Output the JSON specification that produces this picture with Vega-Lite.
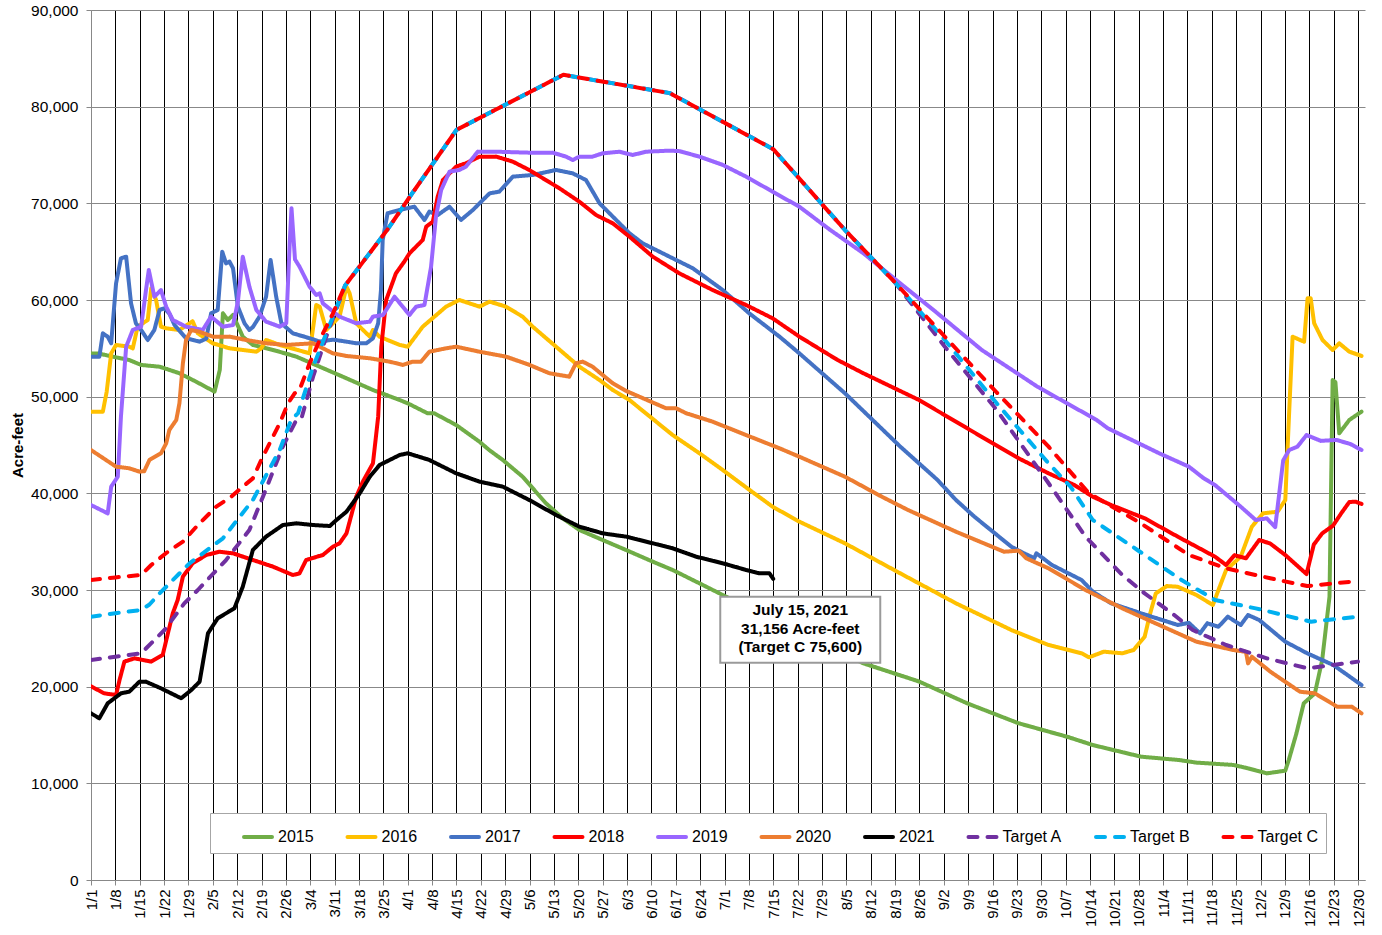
{
  "$schema": "https://vega.github.io/schema/vega-lite/v6.json",
  "width": 1274,
  "height": 870,
  "autosize": {"type": "none"},
  "padding": {"left": 91, "top": 10, "right": 17, "bottom": 55},
  "background": "white",
  "config": {"view": {"stroke": null}, "font": "Liberation Sans"},
  "datasets": {
    "series": [
      {"s":"2015","d":0,"v":54480},{"s":"2015","d":2.4,"v":54450},{"s":"2015","d":6.2,"v":54140},{"s":"2015","d":11,"v":53790},{"s":"2015","d":14.4,"v":53280},{"s":"2015","d":19.7,"v":53100},{"s":"2015","d":25.4,"v":52420},{"s":"2015","d":30.2,"v":51550},{"s":"2015","d":35.5,"v":50520},{"s":"2015","d":37,"v":52760},{"s":"2015","d":37.9,"v":58620},{"s":"2015","d":39.3,"v":57930},{"s":"2015","d":40.8,"v":58450},{"s":"2015","d":43.6,"v":56210},{"s":"2015","d":46.5,"v":55350},{"s":"2015","d":52.3,"v":54830},{"s":"2015","d":59,"v":54140},{"s":"2015","d":65.7,"v":53100},{"s":"2015","d":73.4,"v":51900},{"s":"2015","d":81,"v":50690},{"s":"2015","d":88.7,"v":49650},{"s":"2015","d":91,"v":49310},{"s":"2015","d":96.7,"v":48280},{"s":"2015","d":98.6,"v":48280},{"s":"2015","d":104.9,"v":47070},{"s":"2015","d":111.6,"v":45340},{"s":"2015","d":114.4,"v":44480},{"s":"2015","d":118.3,"v":43450},{"s":"2015","d":124,"v":41720},{"s":"2015","d":130.7,"v":38970},{"s":"2015","d":135.5,"v":37420},{"s":"2015","d":140.3,"v":36210},{"s":"2015","d":147,"v":35170},{"s":"2015","d":153.7,"v":34140},{"s":"2015","d":161.4,"v":32930},{"s":"2015","d":167.1,"v":32070},{"s":"2015","d":174.8,"v":30690},{"s":"2015","d":181.5,"v":29480},{"s":"2015","d":221.9,"v":22410},{"s":"2015","d":237.9,"v":20530},{"s":"2015","d":251.7,"v":18280},{"s":"2015","d":266.5,"v":16210},{"s":"2015","d":280.4,"v":14820},{"s":"2015","d":287.8,"v":13960},{"s":"2015","d":301.6,"v":12760},{"s":"2015","d":312.6,"v":12410},{"s":"2015","d":317.6,"v":12140},{"s":"2015","d":328.2,"v":11900},{"s":"2015","d":332.4,"v":11550},{"s":"2015","d":337.8,"v":11030},{"s":"2015","d":343.1,"v":11310},{"s":"2015","d":344.1,"v":12410},{"s":"2015","d":346.3,"v":15170},{"s":"2015","d":348.4,"v":18280},{"s":"2015","d":351.6,"v":19310},{"s":"2015","d":353.7,"v":22760},{"s":"2015","d":355.8,"v":29310},{"s":"2015","d":356.7,"v":51720},{"s":"2015","d":357.5,"v":51500},{"s":"2015","d":358.6,"v":46210},{"s":"2015","d":361.5,"v":47590},{"s":"2015","d":365,"v":48450},
      {"s":"2016","d":0,"v":48450},{"s":"2016","d":3.4,"v":48450},{"s":"2016","d":4.5,"v":50500},{"s":"2016","d":5.8,"v":54480},{"s":"2016","d":7.2,"v":55350},{"s":"2016","d":11,"v":55170},{"s":"2016","d":12,"v":55000},{"s":"2016","d":13.4,"v":57240},{"s":"2016","d":16.3,"v":57930},{"s":"2016","d":17.3,"v":61210},{"s":"2016","d":18.7,"v":60000},{"s":"2016","d":20.1,"v":57240},{"s":"2016","d":21.6,"v":57070},{"s":"2016","d":25.4,"v":56900},{"s":"2016","d":29.2,"v":57800},{"s":"2016","d":30.7,"v":56550},{"s":"2016","d":35,"v":55520},{"s":"2016","d":39.8,"v":55000},{"s":"2016","d":47.5,"v":54650},{"s":"2016","d":48.9,"v":55000},{"s":"2016","d":50.3,"v":55860},{"s":"2016","d":54.2,"v":55350},{"s":"2016","d":62.8,"v":54480},{"s":"2016","d":64.7,"v":59480},{"s":"2016","d":65.7,"v":59300},{"s":"2016","d":67.6,"v":56900},{"s":"2016","d":71.4,"v":58280},{"s":"2016","d":73.4,"v":61380},{"s":"2016","d":74.3,"v":60690},{"s":"2016","d":76.2,"v":57590},{"s":"2016","d":80.1,"v":56210},{"s":"2016","d":81,"v":56900},{"s":"2016","d":82.9,"v":56200},{"s":"2016","d":88.7,"v":55350},{"s":"2016","d":91,"v":55170},{"s":"2016","d":95.3,"v":57240},{"s":"2016","d":102,"v":59310},{"s":"2016","d":105.8,"v":60000},{"s":"2016","d":111.6,"v":59310},{"s":"2016","d":114.5,"v":59830},{"s":"2016","d":119.2,"v":59310},{"s":"2016","d":124,"v":58280},{"s":"2016","d":126.9,"v":57240},{"s":"2016","d":133.6,"v":55170},{"s":"2016","d":140.3,"v":53100},{"s":"2016","d":146.1,"v":51720},{"s":"2016","d":149.9,"v":50690},{"s":"2016","d":154.7,"v":49650},{"s":"2016","d":167.1,"v":46030},{"s":"2016","d":174.8,"v":44140},{"s":"2016","d":181.5,"v":42410},{"s":"2016","d":189.2,"v":40350},{"s":"2016","d":195.8,"v":38620},{"s":"2016","d":203.5,"v":37070},{"s":"2016","d":216.6,"v":34830},{"s":"2016","d":232.5,"v":31720},{"s":"2016","d":248.5,"v":28620},{"s":"2016","d":264.4,"v":25860},{"s":"2016","d":275.1,"v":24310},{"s":"2016","d":284.6,"v":23450},{"s":"2016","d":286.7,"v":23040},{"s":"2016","d":291,"v":23620},{"s":"2016","d":296.3,"v":23450},{"s":"2016","d":299.5,"v":23790},{"s":"2016","d":302.7,"v":25170},{"s":"2016","d":304.3,"v":27590},{"s":"2016","d":305.9,"v":29650},{"s":"2016","d":309.1,"v":30410},{"s":"2016","d":312.2,"v":30340},{"s":"2016","d":317.6,"v":29480},{"s":"2016","d":322.3,"v":28450},{"s":"2016","d":323.9,"v":30000},{"s":"2016","d":326.1,"v":32070},{"s":"2016","d":330.3,"v":33450},{"s":"2016","d":333.5,"v":36550},{"s":"2016","d":336.7,"v":37930},{"s":"2016","d":340.9,"v":38100},{"s":"2016","d":343.1,"v":39310},{"s":"2016","d":344.2,"v":48280},{"s":"2016","d":345.2,"v":56210},{"s":"2016","d":347.1,"v":55900},{"s":"2016","d":348.5,"v":55690},{"s":"2016","d":349.5,"v":60170},{"s":"2016","d":350.4,"v":60170},{"s":"2016","d":351.4,"v":57590},{"s":"2016","d":353.8,"v":55860},{"s":"2016","d":356.7,"v":54830},{"s":"2016","d":358.6,"v":55520},{"s":"2016","d":361.5,"v":54650},{"s":"2016","d":365,"v":54210},
      {"s":"2017","d":0,"v":54140},{"s":"2017","d":2.4,"v":54140},{"s":"2017","d":3.4,"v":56550},{"s":"2017","d":4.8,"v":56200},{"s":"2017","d":5.8,"v":55520},{"s":"2017","d":7.2,"v":61720},{"s":"2017","d":8.6,"v":64310},{"s":"2017","d":10.1,"v":64480},{"s":"2017","d":11.5,"v":59660},{"s":"2017","d":12.9,"v":57590},{"s":"2017","d":14.4,"v":56900},{"s":"2017","d":16.3,"v":55860},{"s":"2017","d":18.2,"v":56900},{"s":"2017","d":19.7,"v":58970},{"s":"2017","d":21.1,"v":59140},{"s":"2017","d":22.5,"v":58600},{"s":"2017","d":24,"v":57410},{"s":"2017","d":27.3,"v":56040},{"s":"2017","d":31.2,"v":55690},{"s":"2017","d":33.1,"v":56000},{"s":"2017","d":34.5,"v":58620},{"s":"2017","d":36.4,"v":58970},{"s":"2017","d":37.7,"v":65000},{"s":"2017","d":38.8,"v":63790},{"s":"2017","d":39.8,"v":63970},{"s":"2017","d":40.8,"v":63280},{"s":"2017","d":42.2,"v":59310},{"s":"2017","d":44.1,"v":57590},{"s":"2017","d":45.5,"v":56900},{"s":"2017","d":46.5,"v":57200},{"s":"2017","d":48.4,"v":58280},{"s":"2017","d":50.3,"v":60340},{"s":"2017","d":51.6,"v":64140},{"s":"2017","d":53.2,"v":60340},{"s":"2017","d":54.7,"v":57590},{"s":"2017","d":58,"v":56550},{"s":"2017","d":62.8,"v":56040},{"s":"2017","d":65.7,"v":55690},{"s":"2017","d":69.5,"v":55900},{"s":"2017","d":73.4,"v":55690},{"s":"2017","d":76.2,"v":55520},{"s":"2017","d":79.1,"v":55520},{"s":"2017","d":81,"v":56040},{"s":"2017","d":82.5,"v":57590},{"s":"2017","d":83.3,"v":61000},{"s":"2017","d":83.8,"v":66210},{"s":"2017","d":85.2,"v":68970},{"s":"2017","d":88.6,"v":69310},{"s":"2017","d":92.9,"v":69650},{"s":"2017","d":95.8,"v":68280},{"s":"2017","d":97.2,"v":69140},{"s":"2017","d":99.6,"v":68790},{"s":"2017","d":103,"v":69650},{"s":"2017","d":106.3,"v":68280},{"s":"2017","d":109.7,"v":69310},{"s":"2017","d":114.5,"v":71030},{"s":"2017","d":117.3,"v":71210},{"s":"2017","d":121.2,"v":72760},{"s":"2017","d":126.9,"v":72930},{"s":"2017","d":133.6,"v":73450},{"s":"2017","d":138.4,"v":73100},{"s":"2017","d":142.2,"v":72410},{"s":"2017","d":146.1,"v":70000},{"s":"2017","d":154.7,"v":66900},{"s":"2017","d":158.5,"v":65860},{"s":"2017","d":166.2,"v":64480},{"s":"2017","d":172.9,"v":63280},{"s":"2017","d":181.5,"v":61030},{"s":"2017","d":189.1,"v":58620},{"s":"2017","d":197.8,"v":56210},{"s":"2017","d":203.5,"v":54480},{"s":"2017","d":216.6,"v":50350},{"s":"2017","d":232.5,"v":44830},{"s":"2017","d":243.2,"v":41380},{"s":"2017","d":248.5,"v":39310},{"s":"2017","d":253.8,"v":37580},{"s":"2017","d":264.4,"v":34480},{"s":"2017","d":268,"v":33800},{"s":"2017","d":271,"v":33300},{"s":"2017","d":271.6,"v":33800},{"s":"2017","d":276,"v":32600},{"s":"2017","d":284.6,"v":31030},{"s":"2017","d":287.8,"v":29830},{"s":"2017","d":293.1,"v":28620},{"s":"2017","d":301.6,"v":27590},{"s":"2017","d":312.2,"v":26380},{"s":"2017","d":315.4,"v":26600},{"s":"2017","d":318.6,"v":25520},{"s":"2017","d":320.7,"v":26550},{"s":"2017","d":323.9,"v":26200},{"s":"2017","d":326.6,"v":27240},{"s":"2017","d":330.3,"v":26380},{"s":"2017","d":332.4,"v":27410},{"s":"2017","d":335.6,"v":26900},{"s":"2017","d":343.1,"v":24650},{"s":"2017","d":349.4,"v":23450},{"s":"2017","d":356.9,"v":22240},{"s":"2017","d":365,"v":20170},
      {"s":"2018","d":0,"v":20030},{"s":"2018","d":3.8,"v":19310},{"s":"2018","d":7.2,"v":19140},{"s":"2018","d":8.2,"v":20690},{"s":"2018","d":9.6,"v":22590},{"s":"2018","d":12.5,"v":22930},{"s":"2018","d":17.3,"v":22590},{"s":"2018","d":20.6,"v":23280},{"s":"2018","d":22.1,"v":25520},{"s":"2018","d":23.5,"v":27590},{"s":"2018","d":24.9,"v":28970},{"s":"2018","d":26.4,"v":31380},{"s":"2018","d":29.2,"v":32760},{"s":"2018","d":33.1,"v":33620},{"s":"2018","d":36.9,"v":33960},{"s":"2018","d":40.8,"v":33790},{"s":"2018","d":46.5,"v":33100},{"s":"2018","d":52.3,"v":32410},{"s":"2018","d":58,"v":31550},{"s":"2018","d":59.9,"v":31720},{"s":"2018","d":61.8,"v":33100},{"s":"2018","d":66.6,"v":33620},{"s":"2018","d":69.5,"v":34480},{"s":"2018","d":71.4,"v":34830},{"s":"2018","d":73.4,"v":35860},{"s":"2018","d":76.2,"v":39650},{"s":"2018","d":78.1,"v":41210},{"s":"2018","d":81,"v":43100},{"s":"2018","d":82.5,"v":47930},{"s":"2018","d":83.4,"v":55170},{"s":"2018","d":84.8,"v":60000},{"s":"2018","d":87.6,"v":62760},{"s":"2018","d":90,"v":63970},{"s":"2018","d":91.5,"v":64830},{"s":"2018","d":95.3,"v":66210},{"s":"2018","d":96.3,"v":67590},{"s":"2018","d":98.2,"v":68100},{"s":"2018","d":99.6,"v":70690},{"s":"2018","d":101.1,"v":72410},{"s":"2018","d":104.9,"v":73790},{"s":"2018","d":107.7,"v":74140},{"s":"2018","d":111.6,"v":74830},{"s":"2018","d":116.4,"v":74830},{"s":"2018","d":121.2,"v":74310},{"s":"2018","d":125.9,"v":73450},{"s":"2018","d":134.6,"v":71550},{"s":"2018","d":140.3,"v":70170},{"s":"2018","d":145.1,"v":68790},{"s":"2018","d":149.9,"v":67930},{"s":"2018","d":154.7,"v":66550},{"s":"2018","d":161.4,"v":64480},{"s":"2018","d":169,"v":62760},{"s":"2018","d":178.6,"v":61030},{"s":"2018","d":188.2,"v":59480},{"s":"2018","d":195.8,"v":58110},{"s":"2018","d":203.5,"v":56210},{"s":"2018","d":214.5,"v":53790},{"s":"2018","d":221.9,"v":52420},{"s":"2018","d":237.9,"v":49650},{"s":"2018","d":251.7,"v":46730},{"s":"2018","d":259.1,"v":45170},{"s":"2018","d":266.5,"v":43620},{"s":"2018","d":275.1,"v":42070},{"s":"2018","d":282.5,"v":40860},{"s":"2018","d":287.8,"v":39650},{"s":"2018","d":293.1,"v":38790},{"s":"2018","d":302.7,"v":37420},{"s":"2018","d":312.2,"v":35520},{"s":"2018","d":322.9,"v":33450},{"s":"2018","d":326.1,"v":32590},{"s":"2018","d":328.5,"v":33600},{"s":"2018","d":331.8,"v":33280},{"s":"2018","d":335.6,"v":35170},{"s":"2018","d":338.8,"v":34800},{"s":"2018","d":343.1,"v":33620},{"s":"2018","d":349.2,"v":31650},{"s":"2018","d":351.3,"v":34700},{"s":"2018","d":353.7,"v":35860},{"s":"2018","d":356.8,"v":36650},{"s":"2018","d":359.3,"v":38000},{"s":"2018","d":361.5,"v":39100},{"s":"2018","d":363.3,"v":39140},{"s":"2018","d":365,"v":38900},
      {"s":"2019","d":0,"v":38790},{"s":"2019","d":4.8,"v":37930},{"s":"2019","d":5.8,"v":40690},{"s":"2019","d":7.7,"v":41720},{"s":"2019","d":8.6,"v":47930},{"s":"2019","d":10.1,"v":55170},{"s":"2019","d":12,"v":56900},{"s":"2019","d":14.4,"v":57240},{"s":"2019","d":15.8,"v":61030},{"s":"2019","d":16.6,"v":63100},{"s":"2019","d":18.2,"v":60340},{"s":"2019","d":20.1,"v":61030},{"s":"2019","d":21.6,"v":59310},{"s":"2019","d":23.5,"v":57930},{"s":"2019","d":27.3,"v":57240},{"s":"2019","d":32.1,"v":56900},{"s":"2019","d":34.5,"v":58280},{"s":"2019","d":37.9,"v":57240},{"s":"2019","d":40.8,"v":57410},{"s":"2019","d":42.2,"v":59830},{"s":"2019","d":43.6,"v":64480},{"s":"2019","d":45.5,"v":61380},{"s":"2019","d":47.5,"v":58970},{"s":"2019","d":50.3,"v":57760},{"s":"2019","d":54.2,"v":57240},{"s":"2019","d":56.1,"v":57600},{"s":"2019","d":57.1,"v":66000},{"s":"2019","d":57.6,"v":69500},{"s":"2019","d":58.6,"v":64200},{"s":"2019","d":59.9,"v":63450},{"s":"2019","d":62.8,"v":61380},{"s":"2019","d":64.7,"v":60520},{"s":"2019","d":65.7,"v":60690},{"s":"2019","d":66.6,"v":59660},{"s":"2019","d":71.4,"v":58280},{"s":"2019","d":76.2,"v":57590},{"s":"2019","d":80.1,"v":57760},{"s":"2019","d":81,"v":58280},{"s":"2019","d":83.9,"v":58450},{"s":"2019","d":87.2,"v":60340},{"s":"2019","d":91.5,"v":58450},{"s":"2019","d":93.4,"v":59310},{"s":"2019","d":95.8,"v":59480},{"s":"2019","d":97.7,"v":63450},{"s":"2019","d":99.1,"v":68620},{"s":"2019","d":100.6,"v":71380},{"s":"2019","d":103,"v":73280},{"s":"2019","d":105.8,"v":73450},{"s":"2019","d":107.7,"v":73790},{"s":"2019","d":111.1,"v":75340},{"s":"2019","d":116.4,"v":75340},{"s":"2019","d":126,"v":75240},{"s":"2019","d":132.6,"v":75240},{"s":"2019","d":136.5,"v":74830},{"s":"2019","d":138.4,"v":74480},{"s":"2019","d":140.3,"v":74830},{"s":"2019","d":144.1,"v":74830},{"s":"2019","d":147,"v":75170},{"s":"2019","d":151.8,"v":75340},{"s":"2019","d":155.6,"v":75000},{"s":"2019","d":159.5,"v":75340},{"s":"2019","d":166.2,"v":75450},{"s":"2019","d":169,"v":75400},{"s":"2019","d":174.8,"v":74830},{"s":"2019","d":181.5,"v":73970},{"s":"2019","d":188.2,"v":72760},{"s":"2019","d":195.8,"v":71210},{"s":"2019","d":203.5,"v":69650},{"s":"2019","d":212.4,"v":67240},{"s":"2019","d":221.9,"v":64830},{"s":"2019","d":232.5,"v":61720},{"s":"2019","d":243.2,"v":58620},{"s":"2019","d":255.9,"v":54830},{"s":"2019","d":271.9,"v":51030},{"s":"2019","d":288.9,"v":47590},{"s":"2019","d":292.1,"v":46730},{"s":"2019","d":306.9,"v":44140},{"s":"2019","d":315.4,"v":42760},{"s":"2019","d":319.7,"v":41550},{"s":"2019","d":322.9,"v":40860},{"s":"2019","d":330.3,"v":38620},{"s":"2019","d":334.6,"v":37240},{"s":"2019","d":337.8,"v":37410},{"s":"2019","d":340.2,"v":36500},{"s":"2019","d":342.5,"v":43400},{"s":"2019","d":344.2,"v":44480},{"s":"2019","d":346.6,"v":44830},{"s":"2019","d":349.2,"v":46030},{"s":"2019","d":353.3,"v":45430},{"s":"2019","d":357.8,"v":45520},{"s":"2019","d":361.8,"v":45100},{"s":"2019","d":365,"v":44480},
      {"s":"2020","d":0,"v":44480},{"s":"2020","d":4.3,"v":43450},{"s":"2020","d":7.2,"v":42760},{"s":"2020","d":11,"v":42590},{"s":"2020","d":13.9,"v":42240},{"s":"2020","d":15.3,"v":42300},{"s":"2020","d":16.8,"v":43450},{"s":"2020","d":20.1,"v":44140},{"s":"2020","d":21.6,"v":45170},{"s":"2020","d":22.5,"v":46550},{"s":"2020","d":24.5,"v":47590},{"s":"2020","d":25.4,"v":49310},{"s":"2020","d":26.4,"v":53450},{"s":"2020","d":27.3,"v":55860},{"s":"2020","d":28.8,"v":56900},{"s":"2020","d":31.2,"v":56700},{"s":"2020","d":35,"v":56210},{"s":"2020","d":39.8,"v":56210},{"s":"2020","d":44.6,"v":55860},{"s":"2020","d":50.3,"v":55520},{"s":"2020","d":56.1,"v":55350},{"s":"2020","d":63.8,"v":55520},{"s":"2020","d":69.5,"v":54480},{"s":"2020","d":73.4,"v":54210},{"s":"2020","d":80.1,"v":53970},{"s":"2020","d":85.8,"v":53620},{"s":"2020","d":89.6,"v":53280},{"s":"2020","d":92.4,"v":53620},{"s":"2020","d":94.8,"v":53620},{"s":"2020","d":97.2,"v":54650},{"s":"2020","d":102,"v":55000},{"s":"2020","d":104.9,"v":55170},{"s":"2020","d":111.6,"v":54650},{"s":"2020","d":119.2,"v":54140},{"s":"2020","d":126,"v":53280},{"s":"2020","d":131.7,"v":52420},{"s":"2020","d":137.4,"v":52070},{"s":"2020","d":139.3,"v":53450},{"s":"2020","d":141.3,"v":53620},{"s":"2020","d":144.1,"v":53100},{"s":"2020","d":149.9,"v":51380},{"s":"2020","d":153.7,"v":50600},{"s":"2020","d":165.2,"v":48800},{"s":"2020","d":168.1,"v":48800},{"s":"2020","d":171,"v":48280},{"s":"2020","d":178.6,"v":47410},{"s":"2020","d":188.2,"v":46030},{"s":"2020","d":197.8,"v":44660},{"s":"2020","d":203.5,"v":43790},{"s":"2020","d":216.6,"v":41720},{"s":"2020","d":227.2,"v":39650},{"s":"2020","d":234.7,"v":38280},{"s":"2020","d":248.5,"v":36030},{"s":"2020","d":262.3,"v":33960},{"s":"2020","d":266.5,"v":34070},{"s":"2020","d":268.7,"v":33280},{"s":"2020","d":275.1,"v":32240},{"s":"2020","d":285.7,"v":30000},{"s":"2020","d":296.3,"v":28100},{"s":"2020","d":306.9,"v":26380},{"s":"2020","d":317.6,"v":24650},{"s":"2020","d":328.2,"v":23790},{"s":"2020","d":331.8,"v":23600},{"s":"2020","d":332.4,"v":22410},{"s":"2020","d":333.5,"v":23100},{"s":"2020","d":338.8,"v":21550},{"s":"2020","d":347.3,"v":19480},{"s":"2020","d":351.6,"v":19310},{"s":"2020","d":358,"v":17930},{"s":"2020","d":362.2,"v":17930},{"s":"2020","d":365,"v":17240},
      {"s":"2021","d":0,"v":17240},{"s":"2021","d":2.4,"v":16730},{"s":"2021","d":4.8,"v":18280},{"s":"2021","d":8.6,"v":19310},{"s":"2021","d":11,"v":19480},{"s":"2021","d":13.9,"v":20510},{"s":"2021","d":15.8,"v":20510},{"s":"2021","d":20.1,"v":19830},{"s":"2021","d":25.9,"v":18800},{"s":"2021","d":28.8,"v":19650},{"s":"2021","d":31.2,"v":20510},{"s":"2021","d":33.6,"v":25520},{"s":"2021","d":36.4,"v":27070},{"s":"2021","d":41.2,"v":28110},{"s":"2021","d":43.6,"v":30340},{"s":"2021","d":46.5,"v":34140},{"s":"2021","d":50.3,"v":35520},{"s":"2021","d":55.1,"v":36720},{"s":"2021","d":59,"v":36900},{"s":"2021","d":63.8,"v":36720},{"s":"2021","d":68.6,"v":36620},{"s":"2021","d":70.5,"v":37240},{"s":"2021","d":73.4,"v":38100},{"s":"2021","d":77.2,"v":40000},{"s":"2021","d":80.1,"v":41720},{"s":"2021","d":82.9,"v":42930},{"s":"2021","d":88.7,"v":43970},{"s":"2021","d":91,"v":44140},{"s":"2021","d":97.2,"v":43450},{"s":"2021","d":104.9,"v":42070},{"s":"2021","d":111.6,"v":41210},{"s":"2021","d":118.3,"v":40690},{"s":"2021","d":125.9,"v":39310},{"s":"2021","d":133.6,"v":37760},{"s":"2021","d":140.3,"v":36550},{"s":"2021","d":147,"v":35860},{"s":"2021","d":153.7,"v":35520},{"s":"2021","d":161.4,"v":34830},{"s":"2021","d":167.1,"v":34310},{"s":"2021","d":173.8,"v":33450},{"s":"2021","d":181.5,"v":32760},{"s":"2021","d":188.2,"v":32070},{"s":"2021","d":192,"v":31720},{"s":"2021","d":194.9,"v":31720},{"s":"2021","d":196,"v":31156},
      {"s":"Target A","d":0,"v":22760},{"s":"Target A","d":7,"v":23100},{"s":"Target A","d":14.4,"v":23450},{"s":"Target A","d":21.1,"v":25860},{"s":"Target A","d":26.8,"v":28620},{"s":"Target A","d":30.7,"v":30000},{"s":"Target A","d":38.8,"v":33100},{"s":"Target A","d":45.5,"v":36210},{"s":"Target A","d":49.4,"v":39650},{"s":"Target A","d":55.1,"v":44830},{"s":"Target A","d":59,"v":47590},{"s":"Target A","d":60.5,"v":47800},{"s":"Target A","d":63.8,"v":52070},{"s":"Target A","d":67.6,"v":56210},{"s":"Target A","d":73,"v":61500},{"s":"Target A","d":85,"v":67200},{"s":"Target A","d":92.6,"v":71200},{"s":"Target A","d":105,"v":77600},{"s":"Target A","d":135.7,"v":83300},{"s":"Target A","d":166.3,"v":81400},{"s":"Target A","d":196,"v":75600},{"s":"Target A","d":216.6,"v":67240},{"s":"Target A","d":231,"v":61800},{"s":"Target A","d":245.3,"v":55170},{"s":"Target A","d":260.2,"v":48620},{"s":"Target A","d":275.1,"v":41040},{"s":"Target A","d":285.7,"v":35520},{"s":"Target A","d":296.3,"v":31550},{"s":"Target A","d":302.7,"v":29650},{"s":"Target A","d":311.2,"v":27410},{"s":"Target A","d":316.5,"v":25860},{"s":"Target A","d":326.1,"v":24310},{"s":"Target A","d":337.8,"v":22930},{"s":"Target A","d":349.4,"v":21900},{"s":"Target A","d":364,"v":22590},
      {"s":"Target B","d":0,"v":27240},{"s":"Target B","d":7,"v":27600},{"s":"Target B","d":14.4,"v":27930},{"s":"Target B","d":16.8,"v":28500},{"s":"Target B","d":19.7,"v":29650},{"s":"Target B","d":28.3,"v":32760},{"s":"Target B","d":37.9,"v":35350},{"s":"Target B","d":46.5,"v":39310},{"s":"Target B","d":54.2,"v":44480},{"s":"Target B","d":57.5,"v":47600},{"s":"Target B","d":59.5,"v":48300},{"s":"Target B","d":63.8,"v":53100},{"s":"Target B","d":67.6,"v":56550},{"s":"Target B","d":73,"v":61500},{"s":"Target B","d":85,"v":67200},{"s":"Target B","d":92.6,"v":71200},{"s":"Target B","d":105,"v":77600},{"s":"Target B","d":135.7,"v":83300},{"s":"Target B","d":166.3,"v":81400},{"s":"Target B","d":196,"v":75600},{"s":"Target B","d":216.6,"v":67240},{"s":"Target B","d":231,"v":61800},{"s":"Target B","d":245.3,"v":55860},{"s":"Target B","d":260.2,"v":49310},{"s":"Target B","d":275.1,"v":43100},{"s":"Target B","d":281.4,"v":40690},{"s":"Target B","d":287.8,"v":37240},{"s":"Target B","d":300.6,"v":34140},{"s":"Target B","d":313.3,"v":31030},{"s":"Target B","d":322.9,"v":28970},{"s":"Target B","d":334.6,"v":28100},{"s":"Target B","d":350.5,"v":26720},{"s":"Target B","d":364,"v":27240},
      {"s":"Target C","d":0,"v":31030},{"s":"Target C","d":7,"v":31300},{"s":"Target C","d":14.4,"v":31550},{"s":"Target C","d":17.3,"v":32590},{"s":"Target C","d":22.1,"v":33960},{"s":"Target C","d":26.4,"v":35000},{"s":"Target C","d":30.7,"v":36720},{"s":"Target C","d":36,"v":38620},{"s":"Target C","d":40.3,"v":39650},{"s":"Target C","d":43.6,"v":40690},{"s":"Target C","d":46.5,"v":41550},{"s":"Target C","d":48.9,"v":43450},{"s":"Target C","d":51.3,"v":45170},{"s":"Target C","d":54.2,"v":47240},{"s":"Target C","d":56.6,"v":49310},{"s":"Target C","d":58.5,"v":50350},{"s":"Target C","d":59.9,"v":50690},{"s":"Target C","d":62.8,"v":53450},{"s":"Target C","d":65.7,"v":55860},{"s":"Target C","d":69.5,"v":58600},{"s":"Target C","d":73,"v":61500},{"s":"Target C","d":85,"v":67200},{"s":"Target C","d":92.6,"v":71200},{"s":"Target C","d":105,"v":77600},{"s":"Target C","d":135.7,"v":83300},{"s":"Target C","d":166.3,"v":81400},{"s":"Target C","d":196,"v":75600},{"s":"Target C","d":216.6,"v":67240},{"s":"Target C","d":231,"v":61800},{"s":"Target C","d":245.3,"v":56200},{"s":"Target C","d":260.2,"v":50430},{"s":"Target C","d":275.1,"v":44830},{"s":"Target C","d":286.7,"v":40000},{"s":"Target C","d":301.6,"v":36900},{"s":"Target C","d":315.4,"v":33620},{"s":"Target C","d":326.1,"v":32240},{"s":"Target C","d":338.8,"v":31210},{"s":"Target C","d":349.4,"v":30410},{"s":"Target C","d":364,"v":30930}
    ],
    "note": [{"d":196,"v":31156,"t":"July 15, 2021\n31,156 Acre-feet\n(Target C 75,600)"}]
  },
  "layer": [
    {
      "data": {"name": "series"},
      "mark": {"type": "line", "strokeCap": "round", "strokeJoin": "round", "clip": true},
      "encoding": {
        "x": {
          "field": "d", "type": "quantitative",
          "scale": {"domain": [0, 366], "nice": false, "zero": false},
          "axis": {
            "values": [0,7,14,21,28,35,42,49,56,63,70,77,84,91,98,105,112,119,126,133,140,147,154,161,168,175,182,189,196,203,210,217,224,231,238,245,252,259,266,273,280,287,294,301,308,315,322,329,336,343,350,357,364],
            "tickCount": 100,
            "labelExpr": "timeFormat(datetime(2020, 0, 1 + datum.value), '%-m/%-d')",
            "labelAngle": 270, "labelFontSize": 15, "labelColor": "black", "labelFont": "Liberation Sans",
            "labelOverlap": false, "labelFlush": false, "labelBound": false, "labelPadding": 4,
            "grid": true,
            "gridColor": {"condition": {"test": "datum.value === 0", "value": "#888888"}, "value": "#000000"},
            "gridWidth": 1, "domainColor": "#888888", "tickColor": "#888888", "tickSize": 5, "title": null
          }
        },
        "y": {
          "field": "v", "type": "quantitative",
          "scale": {"domain": [0, 90000], "nice": false},
          "axis": {
            "values": [0,10000,20000,30000,40000,50000,60000,70000,80000,90000],
            "tickCount": 20,
            "format": ",.0f", "labelFontSize": 15.5, "labelColor": "black", "labelFont": "Liberation Sans", "labelPadding": 8,
            "gridColor": "#888888", "gridWidth": 1, "domainColor": "#888888", "tickColor": "#888888", "tickSize": 5,
            "title": "Acre-feet", "titleFontSize": 15, "titleFontWeight": "bold", "titleColor": "black", "titleFont": "Liberation Sans",
            "titleX": -74, "titleY": 435, "titleBaseline": "middle", "titleAngle": 270
          }
        },
        "color": {
          "field": "s", "type": "nominal",
          "scale": {
            "domain": ["2015","2016","2017","2018","2019","2020","2021","Target A","Target B","Target C"],
            "range": ["#70AD47","#FFC000","#4472C4","#FF0000","#9966FF","#ED7D31","#000000","#7030A0","#00B0F0","#FF0000"]
          },
          "legend": {
            "orient": "none", "legendX": 119, "legendY": 803, "direction": "horizontal", "columns": 10, "title": null,
            "symbolType": "stroke", "symbolSize": 784, "symbolStrokeWidth": 4.5,
            "labelFontSize": 16, "labelColor": "black", "labelFont": "Liberation Sans", "labelOffset": 4,
            "labelExpr": "datum.label === 'Target C' ? 'Target C\u00a0\u00a0\u00a0\u00a0\u00a0\u00a0' : datum.label",
            "fillColor": "white", "strokeColor": "#a6a6a6", "padding": 8, "columnPadding": 7.5, "symbolOffset": 24,
            "encode": {"symbols": {"update": {"strokeCap": {"value": "round"}}}}
          }
        },
        "strokeDash": {
          "field": "s", "type": "nominal",
          "scale": {
            "domain": ["2015","2016","2017","2018","2019","2020","2021","Target A","Target B","Target C"],
            "range": [[1,0],[1,0],[1,0],[1,0],[1,0],[1,0],[1,0],[9,10],[9,10],[9,10]]
          },
          "legend": {
            "orient": "none", "legendX": 119, "legendY": 803, "direction": "horizontal", "columns": 10, "title": null,
            "symbolType": "stroke", "symbolSize": 784, "symbolStrokeWidth": 4.5,
            "labelFontSize": 16, "labelColor": "black", "labelFont": "Liberation Sans", "labelOffset": 4,
            "labelExpr": "datum.label === 'Target C' ? 'Target C\u00a0\u00a0\u00a0\u00a0\u00a0\u00a0' : datum.label",
            "fillColor": "white", "strokeColor": "#a6a6a6", "padding": 8, "columnPadding": 7.5, "symbolOffset": 24,
            "encode": {"symbols": {"update": {"strokeCap": {"value": "round"}}}}
          }
        },
        "strokeWidth": {
          "field": "s", "type": "nominal",
          "scale": {
            "domain": ["2015","2016","2017","2018","2019","2020","2021","Target A","Target B","Target C"],
            "range": [4,4,3.5,3,4,4.5,4.5,4.5,4.5,4.5]
          },
          "legend": null
        },
        "order": {"field": "d", "type": "quantitative"}
      }
    },
    {
      "data": {"name": "note"},
      "mark": {"type": "point", "shape": "M-1,-0.4125H1V0.4125H-1Z", "size": 25600, "filled": true, "fill": "white", "stroke": "#9a9a9a", "strokeWidth": 2, "opacity": 1, "xOffset": 27, "yOffset": 51},
      "encoding": {
        "x": {"field": "d", "type": "quantitative"},
        "y": {"field": "v", "type": "quantitative"}
      }
    },
    {
      "data": {"name": "note"},
      "mark": {"type": "text", "lineBreak": "\n", "font": "Liberation Sans", "fontWeight": "bold", "fontSize": 15.5, "lineHeight": 18.3, "align": "center", "baseline": "middle", "color": "black", "xOffset": 27, "yOffset": 31.5},
      "encoding": {
        "x": {"field": "d", "type": "quantitative"},
        "y": {"field": "v", "type": "quantitative"},
        "text": {"field": "t"}
      }
    }
  ]
}
